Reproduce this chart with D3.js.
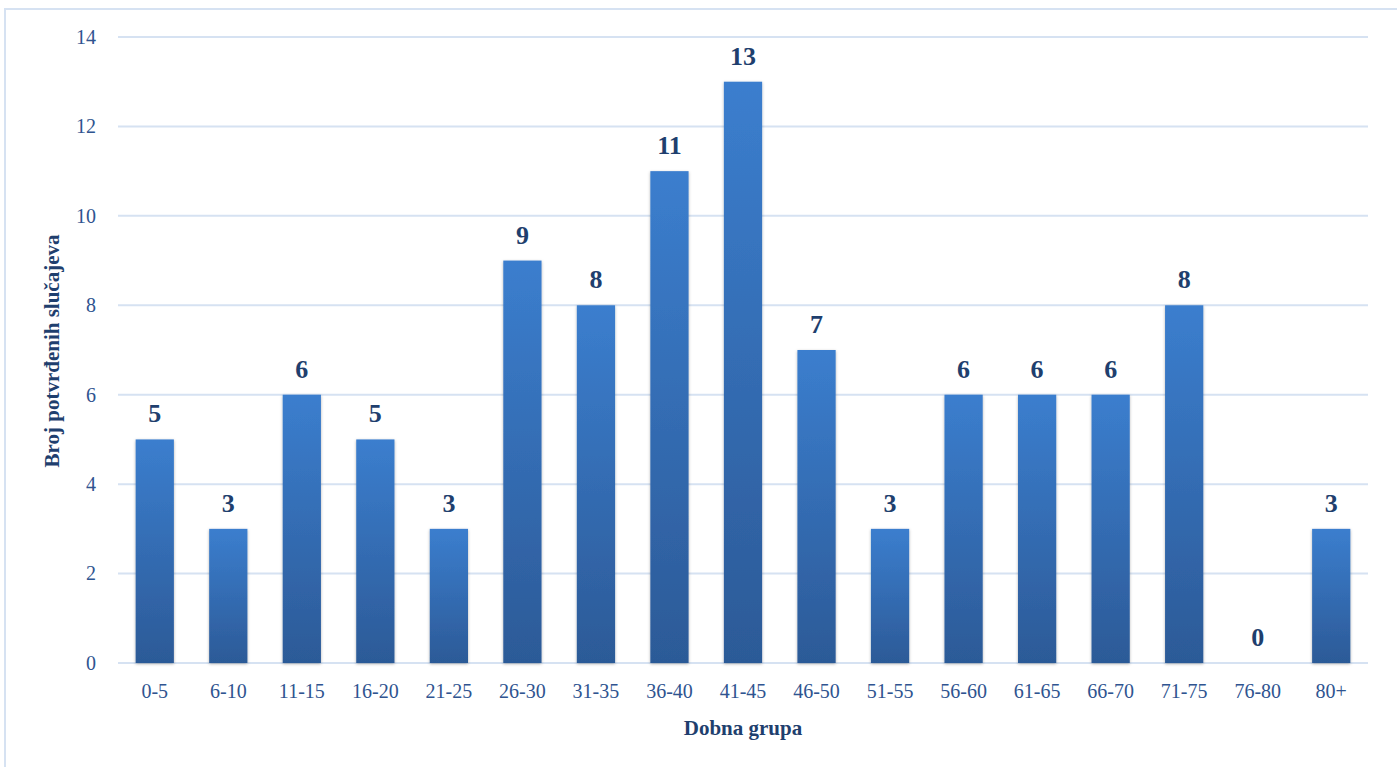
<!DOCTYPE html>
<html>
<head>
<meta charset="utf-8">
<script src="https://cdn.jsdelivr.net/npm/d3@7"></script>
<style>
  body { margin: 0; background: #fff; }
  svg { display: block; }
</style>
</head>
<body>
<svg id="svg" width="1397" height="767"></svg>
<script>
// chart data
var categories = ['0-5', '6-10', '11-15', '16-20', '21-25', '26-30', '31-35', '36-40', '41-45',
                  '46-50', '51-55', '56-60', '61-65', '66-70', '71-75', '76-80', '80+'];
var cases = [5, 3, 6, 5, 3, 9, 8, 11, 13, 7, 3, 6, 6, 6, 8, 0, 3];
var yTicks = [0, 2, 4, 6, 8, 10, 12, 14];

var svg = d3.select('#svg');
var margin = { top: 37, left: 118, right: 29, bottom: 104 };
var width = 1397, height = 767;
var innerWidth = width - margin.left - margin.right;
var innerHeight = height - margin.top - margin.bottom;
var font = '"Liberation Serif", "Times New Roman", serif';

// outer frame (runs off the right and bottom edges like the original)
svg.append('path')
   .attr('d', 'M5,767 V9 H1397')
   .attr('fill', 'none')
   .attr('stroke', '#d6e2f2')
   .attr('stroke-width', 2);

var defs = svg.append('defs');
var grad = defs.append('linearGradient')
   .attr('id', 'barGrad')
   .attr('x1', 0).attr('y1', 0).attr('x2', 0).attr('y2', 1);
grad.append('stop').attr('offset', '0%').attr('stop-color', '#3b7ece');
grad.append('stop').attr('offset', '100%').attr('stop-color', '#2c5a97');

var shadow = defs.append('filter').attr('id', 'shadow')
   .attr('x', '-20%').attr('y', '-10%').attr('width', '140%').attr('height', '120%');
shadow.append('feDropShadow')
   .attr('dx', 0).attr('dy', 1).attr('stdDeviation', 1.6)
   .attr('flood-color', '#000').attr('flood-opacity', 0.3);

var g = svg.append('g')
   .attr('transform', 'translate(' + margin.left + ',' + margin.top + ')');

var xScale = d3.scaleBand()
   .domain(categories)
   .range([0, innerWidth])
   .paddingInner(0.48)
   .paddingOuter(0.24);

var yScale = d3.scaleLinear()
   .domain([0, 14])
   .range([innerHeight, 0]);

// gridlines
g.selectAll('.grid')
   .data(yTicks)
   .join('line')
   .attr('class', 'grid')
   .attr('x1', 0).attr('x2', innerWidth)
   .attr('y1', d => yScale(d)).attr('y2', d => yScale(d))
   .attr('stroke', '#d6e2f2')
   .attr('stroke-width', 2);

// y axis labels
var yAxis = d3.axisLeft(yScale).tickValues(yTicks).tickSize(0).tickPadding(22);
var yG = g.append('g').call(yAxis)
   .attr('font-family', font)
   .attr('font-size', 20);
yG.select('.domain').remove();
yG.selectAll('text').attr('fill', '#2f5490');

// x axis labels
var xAxis = d3.axisBottom(xScale).tickSize(0).tickPadding(21);
var xG = g.append('g').attr('transform', 'translate(0,' + innerHeight + ')').call(xAxis)
   .attr('font-family', font)
   .attr('font-size', 20);
xG.select('.domain').remove();
xG.selectAll('text').attr('fill', '#2f5490');

// bars
g.selectAll('.bar')
   .data(cases)
   .join('rect')
   .attr('class', 'bar')
   .attr('x', (d, i) => xScale(categories[i]))
   .attr('y', d => yScale(d))
   .attr('width', xScale.bandwidth())
   .attr('height', d => innerHeight - yScale(d))
   .attr('fill', 'url(#barGrad)')
   .attr('filter', 'url(#shadow)');

// value labels
g.selectAll('.val')
   .data(cases)
   .join('text')
   .attr('class', 'val')
   .attr('x', (d, i) => xScale(categories[i]) + xScale.bandwidth() / 2)
   .attr('y', d => yScale(d) - 17)
   .attr('text-anchor', 'middle')
   .attr('font-family', font)
   .attr('font-size', 26)
   .attr('font-weight', 'bold')
   .attr('fill', '#1f3f6e')
   .text(d => d);

// axis titles
svg.append('text')
   .attr('x', margin.left + innerWidth / 2)
   .attr('y', 735)
   .attr('text-anchor', 'middle')
   .attr('font-family', font)
   .attr('font-size', 21)
   .attr('font-weight', 'bold')
   .attr('fill', '#1f3f6e')
   .text('Dobna grupa');

svg.append('text')
   .attr('transform', 'translate(59,351) rotate(-90)')
   .attr('text-anchor', 'middle')
   .attr('font-family', font)
   .attr('font-size', 21)
   .attr('font-weight', 'bold')
   .attr('fill', '#1f3f6e')
   .text('Broj potvrđenih slučajeva');
</script>
</body>
</html>
